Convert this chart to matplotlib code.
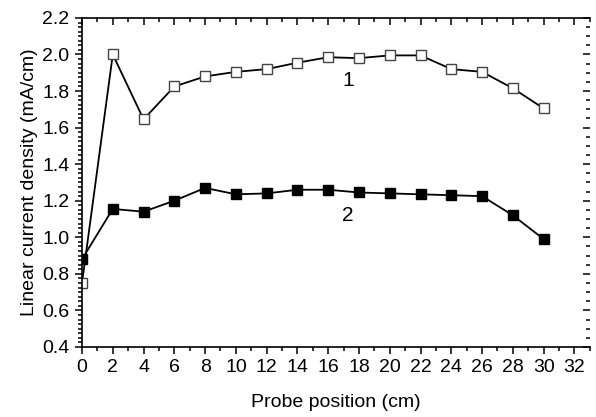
import matplotlib
matplotlib.use("Agg")
import matplotlib.pyplot as plt
from matplotlib.ticker import MultipleLocator

plt.rcParams['font.family'] = ['Liberation Sans', 'DejaVu Sans']

position = [0, 2, 4, 6, 8, 10, 12, 14, 16, 18, 20, 22, 24, 26, 28, 30]
curve1 = [0.75, 2.00, 1.645, 1.825, 1.88, 1.905, 1.92, 1.955, 1.985, 1.98,
          1.995, 1.995, 1.92, 1.905, 1.815, 1.705]
curve2 = [0.88, 1.155, 1.14, 1.20, 1.27, 1.235, 1.24, 1.26, 1.26, 1.245,
          1.24, 1.235, 1.23, 1.225, 1.12, 0.99]

fig = plt.figure(figsize=(5.96, 4.17), dpi=100)
ax = fig.add_axes([0.1376, 0.168, 0.852, 0.789])

ax.plot(position, curve1, color='black', lw=1.3, marker='s', ms=7,
        mfc='white', mec='#444444', mew=1.0)
ax.plot(position, curve2, color='black', lw=1.3, marker='s', ms=6.5,
        mfc='black', mec='black')

ax.text(17.3, 1.86, '1', fontsize=15, ha='center', va='center')
ax.text(17.3, 1.12, '2', fontsize=15, ha='center', va='center')

ax.set_xlim(0, 33)
ax.set_ylim(0.4, 2.2)
ax.set_xticks(range(0, 33, 2))
ax.xaxis.set_minor_locator(MultipleLocator(1))
ax.yaxis.set_major_locator(MultipleLocator(0.2))
ax.yaxis.set_minor_locator(MultipleLocator(0.025))
ax.yaxis.set_major_formatter(plt.FuncFormatter(lambda v, p: f'{v:.1f}'))

ax.tick_params(which='both', bottom=True, left=True, top=False, right=False,
               labelsize=14, width=1.1, direction='out')
ax.tick_params(which='major', length=5, pad=4)
ax.tick_params(which='minor', length=3)

# top and right ticks point inward
ax2 = ax.secondary_xaxis('top')
ax2.set_xticks(range(0, 33, 2))
ax2.xaxis.set_minor_locator(MultipleLocator(1))
ax2.tick_params(which='both', direction='in', labeltop=False, width=1.1)
ax2.tick_params(which='major', length=5)
ax2.tick_params(which='minor', length=3)
ax2.spines['top'].set_linewidth(1.2)
ay2 = ax.secondary_yaxis('right')
ay2.yaxis.set_major_locator(MultipleLocator(0.2))
ay2.yaxis.set_minor_locator(MultipleLocator(0.05))
ay2.tick_params(which='both', direction='in', labelright=False, width=1.1)
ay2.tick_params(which='major', length=5)
ay2.tick_params(which='minor', length=3)
ay2.spines['right'].set_visible(False)

ax.spines['right'].set_visible(False)
ax.spines['top'].set_visible(False)
for s in ['left', 'bottom']:
    ax.spines[s].set_linewidth(1.2)

ax.set_xlabel('Probe position (cm)', fontsize=14, labelpad=13)
ax.set_ylabel('Linear current density (mA/cm)', fontsize=14, labelpad=3)

fig.savefig('out.png', dpi=100)
